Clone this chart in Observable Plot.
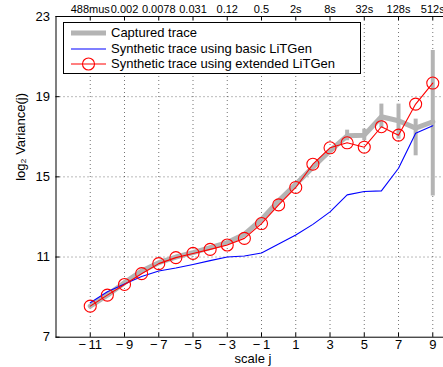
<!DOCTYPE html>
<html>
<head>
<meta charset="utf-8">
<script src="https://cdn.jsdelivr.net/npm/d3@7"></script>
<script src="https://cdn.jsdelivr.net/npm/@observablehq/plot@0.6"></script>
<style>
  html, body { margin: 0; padding: 0; background: #fff; }
  #wrap { position: relative; width: 443px; height: 367px; overflow: hidden; font-family: "Liberation Sans", Arial, sans-serif; }
  #legend { position: absolute; left: 63px; top: 22px; width: 296px; height: 50px; border: 1.5px solid #000; background: #fff; font-size: 13px; }
  .row { position: absolute; left: 0; height: 15px; display: flex; align-items: center; }
  .row svg { margin-left: 7px; margin-right: 4px; }
</style>
</head>
<body>
<div id="wrap"></div>
<script>
// ---- data ----
const scales = [-11,-10,-9,-8,-7,-6,-5,-4,-3,-2,-1,0,1,2,3,4,5,6,7,8,9];
const captured = [8.55,9.1,9.72,10.3,10.72,11.0,11.22,11.47,11.72,12.13,12.88,13.8,14.63,15.48,16.3,17.05,17.08,18.0,17.8,17.43,17.75];
const basicLiTGen = [8.72,9.27,9.66,10.03,10.3,10.45,10.63,10.82,11.0,11.05,11.2,11.65,12.1,12.63,13.25,14.1,14.27,14.3,15.43,17.17,17.55];
const extendedLiTGen = [8.55,9.1,9.63,10.17,10.67,10.97,11.18,11.38,11.6,11.93,12.67,13.6,14.47,15.63,16.45,16.7,16.48,17.5,17.08,18.63,19.68];
const errScales = [4,5,6,7,8,9];
const errLow = [16.8,16.8,17.43,16.88,16.05,14.05];
const errHigh = [17.33,17.38,18.63,18.63,17.88,21.3];
const xTicks = [-11,-9,-7,-5,-3,-1,1,3,5,7,9];
const topLabels = ["488mus","0.002","0.0078","0.031","0.12","0.5","2s","8s","32s","128s","512s"];
const yTicks = [7,11,15,19,23];
const yGrid = [11,15,19];
const seriesNames = ["Captured trace","Synthetic trace using basic LiTGen","Synthetic trace using extended LiTGen"];

const cap = scales.map((j,i)=>({j, v: captured[i]}));
const bas = scales.map((j,i)=>({j, v: basicLiTGen[i]}));
const ext = scales.map((j,i)=>({j, v: extendedLiTGen[i]}));
const err = errScales.map((j,i)=>({j, lo: errLow[i], hi: errHigh[i]}));

const W = 443, H = 367, mL = 55.5, mT = 16, mB = 30.3, mR = -6.4;
const plotH = H - mT - mB, plotW = W - mL - mR;
const gray = "#b4b4b4";

const minusFmt = d => d < 0 ? "\u2212\u2009" + Math.abs(d) : String(d);

const chart = Plot.plot({
  width: W, height: H,
  marginLeft: mL, marginTop: mT, marginBottom: mB, marginRight: mR,
  style: {fontFamily: "'Liberation Sans', Arial, sans-serif", fontSize: "13px", color: "#000", background: "transparent", overflow: "visible"},
  x: {domain: [-13, 10]},
  y: {domain: [7, 23]},
  marks: [
    Plot.gridX(xTicks, {stroke: "#000", strokeOpacity: 0.55, strokeDasharray: "1,3"}),
    Plot.gridY(yGrid, {stroke: "#000", strokeOpacity: 0.55, strokeDasharray: "1,3"}),
    Plot.line(cap, {x: "j", y: "v", stroke: gray, strokeWidth: 5, strokeLinejoin: "miter"}),
    Plot.ruleX(err, {x: "j", y1: "lo", y2: "hi", stroke: gray, strokeWidth: 4}),
    Plot.line(bas, {x: "j", y: "v", stroke: "#0000ff", strokeWidth: 1.1}),
    Plot.line(ext, {x: "j", y: "v", stroke: "#ff0000", strokeWidth: 1.1}),
    Plot.dot(ext, {x: "j", y: "v", r: 6, stroke: "#ff0000", strokeWidth: 1.1, fill: "none"}),
    Plot.frame({stroke: "#000", strokeWidth: 1}),
    Plot.tickX(xTicks, {x: d => d, insetTop: plotH - 4, stroke: "#000"}),
    Plot.tickX(xTicks, {x: d => d, insetBottom: plotH - 4, stroke: "#000"}),
    Plot.tickY(yTicks, {y: d => d, insetRight: plotW - 4, stroke: "#000"}),
    Plot.axisX(xTicks, {anchor: "bottom", tickSize: 0, tickPadding: 3, tickFormat: minusFmt, fontSize: 13, label: null}),
    Plot.axisX(xTicks, {anchor: "top", tickSize: 0, tickPadding: 4, tickFormat: d => topLabels[xTicks.indexOf(d)], fontSize: 11, label: null}),
    Plot.axisY(yTicks, {anchor: "left", tickSize: 0, tickPadding: 6, fontSize: 13, label: null}),
    Plot.text(["scale j"], {frameAnchor: "bottom", dy: 26, fontSize: 13, fill: "#000"}),
    Plot.text(["log\u2082 Variance(j)"], {frameAnchor: "left", dx: -35, dy: 4, rotate: -90, fontSize: 13, fill: "#000"})
  ]
});
const wrap = document.getElementById("wrap");
wrap.appendChild(chart);

// legend
const legend = document.createElement("div");
legend.id = "legend";
const swatches = [
  `<svg width="36" height="10"><line x1="0" y1="5" x2="35" y2="5" stroke="${gray}" stroke-width="5"/></svg>`,
  `<svg width="36" height="10"><line x1="0" y1="5" x2="35" y2="5" stroke="#0000ff" stroke-width="1.1"/></svg>`,
  `<svg width="36" height="14"><line x1="0" y1="7" x2="35" y2="7" stroke="#ff0000" stroke-width="1.1"/><circle cx="17.5" cy="7" r="6" fill="none" stroke="#ff0000" stroke-width="1.1"/></svg>`
];
const rowTops = [2, 18, 33];
seriesNames.forEach((name, i) => {
  const row = document.createElement("div");
  row.className = "row";
  row.style.top = rowTops[i] + "px";
  row.innerHTML = swatches[i] + `<span>${name}</span>`;
  legend.appendChild(row);
});
wrap.appendChild(legend);
</script>
</body>
</html>
